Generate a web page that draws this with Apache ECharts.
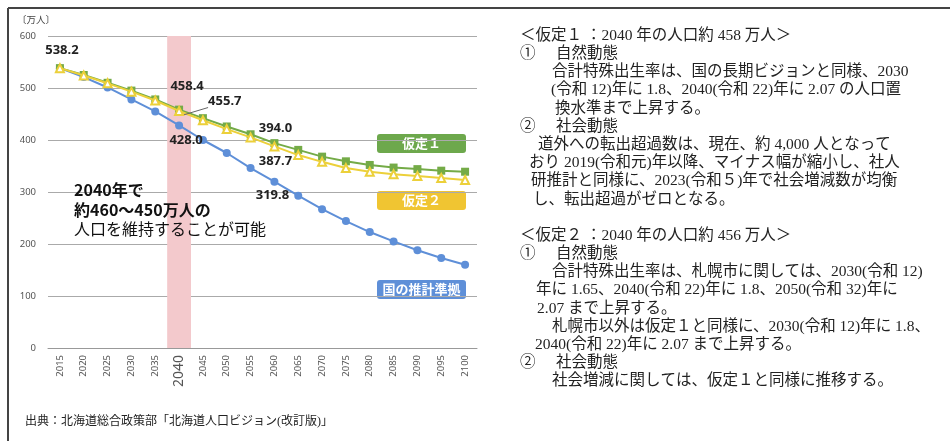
<!DOCTYPE html>
<html>
<head>
<meta charset="utf-8">
<script src="https://cdn.jsdelivr.net/npm/echarts@6/dist/echarts.min.js"></script>
<style>
html, body { margin: 0; padding: 0; background: #fff; }
#main { width: 950px; height: 441px; }
</style>
</head>
<body>
<div id="main"></div>
<script>
// 年次
const years = ['2015', '2020', '2025', '2030', '2035', '2040', '2045', '2050', '2055',
  '2060', '2065', '2070', '2075', '2080', '2085', '2090', '2095', '2100'];
// 仮定1
const plan1 = [538.2, 525, 510, 495, 478, 458.4, 442, 426, 411, 394.0, 381, 368, 359, 352, 347, 344, 341, 339];
// 仮定2
const plan2 = [538.2, 524, 509, 493, 476, 455.7, 438, 421, 405, 387.7, 371, 358, 346, 339, 334, 331, 327, 323];
// 国の推計準拠
const national = [538.2, 521, 501, 478, 455, 428.0, 400, 375, 346, 319.8, 293, 267, 244, 223, 205, 188, 173, 160];
const yTicks = [0, 100, 200, 300, 400, 500, 600];
const highlightYear = '2040';

const note1 = [
  '＜仮定１ ：2040 年の人口約 458 万人＞',
  '①',
  '自然動態',
  '合計特殊出生率は、国の長期ビジョンと同様、2030',
  '(令和 12)年に 1.8、2040(令和 22)年に 2.07 の人口置',
  '換水準まで上昇する。',
  '②',
  '社会動態',
  '道外への転出超過数は、現在、約 4,000 人となって',
  'おり 2019(令和元)年以降、マイナス幅が縮小し、社人',
  '研推計と同様に、2023(令和５)年で社会増減数が均衡',
  'し、転出超過がゼロとなる。'
];
const note2 = [
  '＜仮定２ ：2040 年の人口約 456 万人＞',
  '①',
  '自然動態',
  '合計特殊出生率は、札幌市に関しては、2030(令和 12)',
  '年に 1.65、2040(令和 22)年に 1.8、2050(令和 32)年に',
  '2.07 まで上昇する。',
  '札幌市以外は仮定１と同様に、2030(令和 12)年に 1.8、',
  '2040(令和 22)年に 2.07 まで上昇する。',
  '②',
  '社会動態',
  '社会増減に関しては、仮定１と同様に推移する。'
];

const labelFont = {
  fontFamily: 'Noto Sans', fontWeight: 'bold', fontSize: 13, color: '#222',
  formatter: p => Number(p.value).toFixed(1)
};
const serif = "'Liberation Serif', 'Noto Sans CJK JP'";

// ラベル付きのデータ
function withLabels(values, labels) {
  return values.map((v, i) => {
    if (!labels[i]) return v;
    const item = { value: v, label: Object.assign({ show: true }, labelFont, labels[i].label) };
    if (labels[i].labelLine) item.labelLine = labels[i].labelLine;
    return item;
  });
}

const iHi = years.indexOf(highlightYear);
const i2060 = years.indexOf('2060');

const plan1Labels = {};
plan1Labels[0] = { label: { position: 'top', distance: 7, offset: [2, 0] } };
plan1Labels[iHi] = { label: { position: 'top', distance: 7, offset: [8, -6] } };
plan1Labels[i2060] = { label: { position: 'top', distance: 4, offset: [1, 0] } };

const plan2Labels = {};
plan2Labels[iHi] = {
  label: { position: 'right', distance: 12, offset: [12, -10] },
  labelLine: { show: true, lineStyle: { color: '#666', width: 1 } }
};
plan2Labels[i2060] = { label: { position: 'bottom', distance: 3, offset: [1, 0] } };

const nationalLabels = {};
nationalLabels[iHi] = { label: { position: 'bottom', distance: 4, offset: [7, 0] } };
nationalLabels[i2060] = { label: { position: 'bottom', distance: 3, offset: [-2, 0] } };

// 右側の説明文
const graphics = [];
function addNote(lines, top, xs) {
  lines.forEach((t, k) => {
    graphics.push({
      type: 'text', left: xs[k].x, top: top + xs[k].row * 18.2 - 9,
      style: { text: t, fontSize: 15.5, fontFamily: serif, fill: '#222' }
    });
  });
}
addNote(note1, 37, [
  { x: 520, row: 0 }, { x: 520, row: 1 }, { x: 556, row: 1 }, { x: 552, row: 2 },
  { x: 551, row: 3 }, { x: 555, row: 4 }, { x: 520, row: 5 }, { x: 556, row: 5 },
  { x: 538, row: 6 }, { x: 529, row: 7 }, { x: 531, row: 8 }, { x: 533, row: 9 }
]);
addNote(note2, 237, [
  { x: 520, row: 0 }, { x: 520, row: 1 }, { x: 556, row: 1 }, { x: 552, row: 2 },
  { x: 536, row: 3 }, { x: 537, row: 4 }, { x: 552, row: 5 }, { x: 535, row: 6 },
  { x: 520, row: 7 }, { x: 556, row: 7 }, { x: 552, row: 8 }
]);

// バッジ
function badge(y, color, text) {
  graphics.push({
    type: 'group', left: 377, top: y, z: 50,
    children: [
      { type: 'rect', shape: { x: 0, y: 0, width: 89, height: 19, r: 3 }, style: { fill: color } },
      { type: 'text', style: { x: 44.5, y: 9.5, text: text, align: 'center', verticalAlign: 'middle',
        fontSize: 13, fontWeight: 'bold', fontFamily: 'Noto Sans CJK JP', fill: '#fff' } }
    ]
  });
}
badge(134, '#6da84c', '仮定１');
badge(191, '#f0c532', '仮定２');
badge(280, '#5e8fd8', '国の推計準拠');

// 注記
graphics.push(
  { type: 'text', z: 50, left: 74, top: 182, style: { text: '2040年で', fontSize: 16, fontWeight: 'bold', fontFamily: 'Noto Sans CJK JP', fill: '#111' } },
  { type: 'text', z: 50, left: 74, top: 202, style: { text: '約460〜450万人の', fontSize: 16, fontWeight: 'bold', fontFamily: 'Noto Sans CJK JP', fill: '#111' } },
  { type: 'text', z: 50, left: 74, top: 221, style: { text: '人口を維持することが可能', fontSize: 16, fontFamily: 'Noto Sans CJK JP', fill: '#111' } },
  { type: 'text', left: 25, top: 416, style: { text: '出典：北海道総合政策部「北海道人口ビジョン(改訂版)」', fontSize: 12, fontFamily: serif, fill: '#222' } },
  // 枠線
  { type: 'line', shape: { x1: 8, y1: 8, x2: 950, y2: 8 }, style: { stroke: '#444', lineWidth: 2 } },
  { type: 'line', shape: { x1: 8, y1: 8, x2: 8, y2: 441 }, style: { stroke: '#444', lineWidth: 2 } }
);

var myChart = echarts.init(document.getElementById('main'));
myChart.setOption({
  animation: false,
  backgroundColor: '#fff',
  grid: { left: 48, right: 473, top: 36, bottom: 93 },
  xAxis: {
    type: 'category',
    data: years,
    boundaryGap: true,
    axisTick: { show: false },
    axisLine: { lineStyle: { color: '#999', width: 1 } },
    axisLabel: {
      rotate: 90, margin: 7, fontSize: 9.5, color: '#555', fontFamily: 'Noto Sans',
      formatter: v => (v === highlightYear ? '{big|' + v + '}' : v),
      rich: { big: { fontSize: 14, color: '#555', fontFamily: 'Noto Sans' } }
    }
  },
  yAxis: {
    type: 'value',
    min: yTicks[0], max: yTicks[yTicks.length - 1], interval: 100,
    name: '〔万人〕',
    nameGap: 12,
    nameTextStyle: { fontSize: 9.5, color: '#444', fontFamily: 'Noto Sans CJK JP', align: 'center', padding: [0, 24, 0, 0] },
    axisLine: { show: false },
    axisTick: { show: false },
    axisLabel: { fontSize: 9.5, color: '#555', margin: 12, fontFamily: 'Noto Sans' },
    splitLine: { lineStyle: { color: '#aaa', width: 1 } }
  },
  series: [
    {
      name: '2040',
      type: 'bar',
      silent: true,
      barWidth: '100%',
      z: 1,
      itemStyle: { color: '#f3c9cc' },
      data: years.map(y => (y === highlightYear ? yTicks[yTicks.length - 1] : null))
    },
    {
      name: '国の推計準拠',
      type: 'line',
      z: 3,
      symbol: 'circle',
      symbolSize: 8,
      lineStyle: { color: '#5e8fd8', width: 2 },
      itemStyle: { color: '#5e8fd8' },
      data: withLabels(national, nationalLabels)
    },
    {
      name: '仮定1',
      type: 'line',
      z: 4,
      symbol: 'rect',
      symbolSize: 8,
      lineStyle: { color: '#74ab47', width: 2 },
      itemStyle: { color: '#74ab47' },
      data: withLabels(plan1, plan1Labels)
    },
    {
      name: '仮定2',
      type: 'line',
      z: 5,
      symbol: 'emptyTriangle',
      symbolSize: 8,
      lineStyle: { color: '#ecd03a', width: 2 },
      itemStyle: { color: '#ecd03a', borderWidth: 1.5 },
      data: withLabels(plan2, plan2Labels)
    }
  ],
  graphic: graphics
});
</script>
</body>
</html>
